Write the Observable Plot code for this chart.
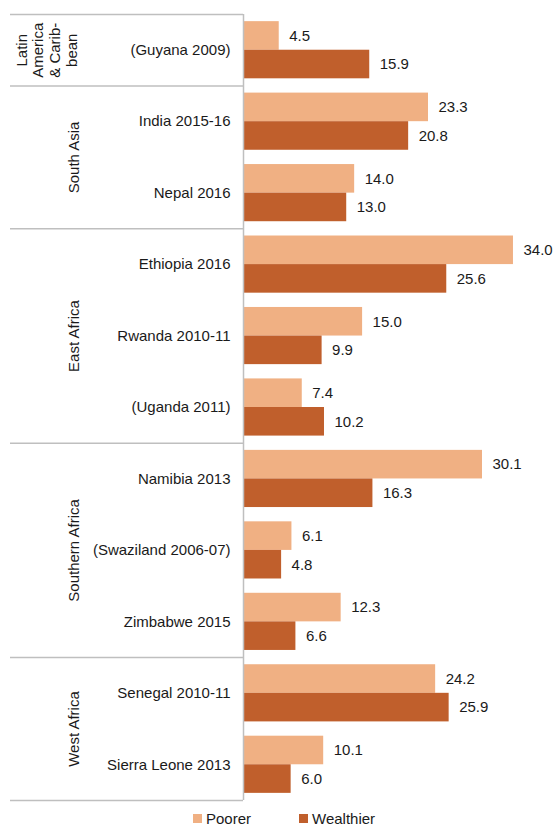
<!DOCTYPE html>
<html>
<head>
<meta charset="utf-8">
<script src="https://cdn.jsdelivr.net/npm/d3@7"></script>
<script src="https://cdn.jsdelivr.net/npm/@observablehq/plot@0.6"></script>
<style>
  body { margin: 0; background: #fff; font-family: "Liberation Sans", Arial, sans-serif; }
  #legend { display: flex; align-items: center; height: 20px; padding-left: 193px; font-size: 15px; color: #1a1a1a; }
  #legend .item { display: flex; align-items: center; }
  #legend .sw { width: 9px; height: 9px; margin-right: 4px; }
</style>
</head>
<body>
<div id="chart"></div>
<div id="legend"></div>
<script>
const regions = ["Latin\nAmerica\n& Carib-\nbean", "South Asia", "East Africa", "Southern Africa", "West Africa"];
const countries = ["(Guyana 2009)", "India 2015-16", "Nepal 2016", "Ethiopia 2016", "Rwanda 2010-11", "(Uganda 2011)", "Namibia 2013", "(Swaziland 2006-07)", "Zimbabwe 2015", "Senegal 2010-11", "Sierra Leone 2013"];
const countryRegion = [0, 1, 1, 2, 2, 2, 3, 3, 3, 4, 4];
const series = ["Poorer", "Wealthier"];
const poorer = [4.5, 23.3, 14.0, 34.0, 15.0, 7.4, 30.1, 6.1, 12.3, 24.2, 10.1];
const wealthier = [15.9, 20.8, 13.0, 25.6, 9.9, 10.2, 16.3, 4.8, 6.6, 25.9, 6.0];
const colors = ["#F0B083", "#C05F2C"];

// table built from arrays
const rows = [];
countries.forEach((c, i) => {
  [poorer, wealthier].forEach((arr, s) => rows.push({country: c, i, s, series: series[s], value: arr[i]}));
});
const regionSpans = regions.map((r, k) => {
  const idx = countryRegion.map((v, i) => v === k ? i : -1).filter(i => i >= 0);
  return {region: r, k, start: idx[0], end: idx[idx.length - 1] + 1};
});
const boundaries = [0, ...regionSpans.map(d => d.end)];

const W = 553, H = 808, leftEdge = 10, axisPx = 243, pxPerUnit = 7.94;
const toUnits = px => (px - axisPx) / pxPerUnit;
const xDomain = [toUnits(leftEdge), toUnits(W)];
const gray = "#bfbfbf";
const band = 0.4, pad = 0.1;
const fs = 15;

const plot = Plot.plot({
  width: W,
  height: H,
  marginLeft: leftEdge,
  marginRight: 0,
  marginTop: 14,
  marginBottom: 8,
  style: {fontFamily: "'Liberation Sans', Arial, sans-serif", background: "#fff"},
  x: {domain: xDomain, axis: null},
  y: {domain: [0, countries.length], reverse: true, axis: null},
  color: {domain: series, range: colors},
  marks: [
    Plot.rect(rows, {
      x1: () => 0, x2: "value",
      y1: d => d.i + pad + band * d.s,
      y2: d => d.i + pad + band * (d.s + 1),
      fill: "series"
    }),
    Plot.ruleY(boundaries, {y: d => d, x1: () => xDomain[0], x2: () => 0, stroke: gray, strokeWidth: 1.5}),
    Plot.ruleX([0], {y1: () => 0, y2: () => countries.length, stroke: gray, strokeWidth: 1.5}),
    Plot.text(rows, {
      x: "value",
      y: d => d.i + pad + band * (d.s + 0.5),
      text: d => d.value.toFixed(1),
      dx: 10, textAnchor: "start", fontSize: fs, fill: "#1a1a1a"
    }),
    Plot.text(countries, {
      x: () => 0, y: (d, i) => i + 0.5, text: d => d,
      dx: -13, textAnchor: "end", fontSize: fs, fill: "#1a1a1a"
    }),
    Plot.text(regionSpans, {
      x: d => d.k === 0 ? toUnits(46) : toUnits(73),
      y: d => (d.start + d.end) / 2, text: "region",
      rotate: -90, fontSize: fs, lineHeight: 1.12, fill: "#1a1a1a"
    })
  ]
});
document.getElementById("chart").appendChild(plot);

const legend = document.getElementById("legend");
series.forEach((s, j) => {
  const item = document.createElement("div");
  item.className = "item";
  if (j > 0) item.style.marginLeft = "48px";
  const sw = document.createElement("span");
  sw.className = "sw";
  sw.style.background = plot.scale("color").apply(s);
  const t = document.createElement("span");
  t.textContent = s;
  item.appendChild(sw); item.appendChild(t);
  legend.appendChild(item);
});
</script>
</body>
</html>
